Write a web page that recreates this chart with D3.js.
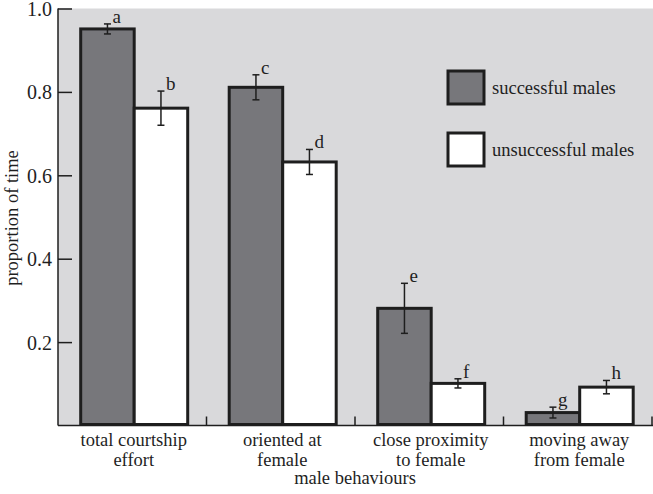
<!DOCTYPE html>
<html>
<head>
<meta charset="utf-8">
<script src="https://cdn.jsdelivr.net/npm/d3@7"></script>
<style>
  html, body { margin: 0; padding: 0; background: #ffffff; }
  svg { display: block; }
  text { font-family: "Liberation Serif", "Times New Roman", serif; fill: #1f1f1f; }
</style>
</head>
<body>
<svg id="chart" width="653" height="494"></svg>
<script>
// ---- data ----
const categories = [["total courtship", "effort"], ["oriented at", "female"], ["close proximity", "to female"], ["moving away", "from female"]];
const seriesNames = ["successful males", "unsuccessful males"];
const successful = [0.951, 0.811, 0.281, 0.031];
const unsuccessful = [0.761, 0.632, 0.101, 0.092];
const successfulErr = [0.012, 0.030, 0.060, 0.013];
const unsuccessfulErr = [0.041, 0.030, 0.011, 0.016];
const successfulLetters = ["a", "c", "e", "g"];
const unsuccessfulLetters = ["b", "d", "f", "h"];
const yTicks = [0.2, 0.4, 0.6, 0.8, 1.0];
const xTitle = "male behaviours";
const yTitle = "proportion of time";

// ---- layout ----
const svg = d3.select("#chart");
const mLeft = 58, mRight = 652, mTop = 8.5, mBottom = 425.5;
const seriesFill = ["#77777b", "#ffffff"];
const bg = "#d9d9db";
const ink = "#1e1e1e";

const catKeys = categories.map((c, i) => i);
const x = d3.scaleBand().domain(catKeys).range([mLeft, mRight]).paddingInner(0).paddingOuter(0);
const xSub = d3.scaleBand().domain(seriesNames).range([22.7, 22.7 + 107]).padding(0);
const y = d3.scaleLinear().domain([0, 1]).range([mBottom, mTop]);

// background panel
svg.append("rect").attr("x", mLeft).attr("y", mTop).attr("width", 653 - mLeft).attr("height", mBottom - mTop).attr("fill", bg);

// data rows
const rows = [];
catKeys.forEach(i => {
  rows.push({cat: i, s: 0, v: successful[i], e: successfulErr[i], l: successfulLetters[i]});
  rows.push({cat: i, s: 1, v: unsuccessful[i], e: unsuccessfulErr[i], l: unsuccessfulLetters[i]});
});

// bars
svg.append("g").selectAll("rect").data(rows).join("rect")
  .attr("x", d => x(d.cat) + xSub(seriesNames[d.s]))
  .attr("y", d => y(d.v))
  .attr("width", xSub.bandwidth())
  .attr("height", d => y(0) - y(d.v) - 1)
  .attr("fill", d => seriesFill[d.s])
  .attr("stroke", ink)
  .attr("stroke-width", 3);

// error bars
const eg = svg.append("g").attr("stroke", ink).attr("stroke-width", 1.5).attr("fill", "none");
rows.forEach(d => {
  const cx = x(d.cat) + xSub(seriesNames[d.s]) + xSub.bandwidth() / 2;
  const y1 = y(d.v + d.e), y2 = y(d.v - d.e);
  eg.append("line").attr("x1", cx).attr("x2", cx).attr("y1", y1).attr("y2", y2);
  eg.append("line").attr("x1", cx - 3.5).attr("x2", cx + 3.5).attr("y1", y1).attr("y2", y1);
  eg.append("line").attr("x1", cx - 3.5).attr("x2", cx + 3.5).attr("y1", y2).attr("y2", y2);
});

// significance letters
svg.append("g").selectAll("text").data(rows).join("text")
  .attr("x", d => x(d.cat) + xSub(seriesNames[d.s]) + xSub.bandwidth() / 2 + 5)
  .attr("y", d => y(d.v + d.e) - 1)
  .attr("font-size", 19)
  .text(d => d.l);

// y axis
const yAxis = d3.axisLeft(y).tickValues(yTicks).tickFormat(d3.format(".1f")).tickSize(-14).tickPadding(20);
const yg = svg.append("g").attr("transform", `translate(${mLeft},0)`).call(yAxis);
yg.select(".domain").remove();
yg.selectAll(".tick line").attr("stroke", ink).attr("stroke-width", 1.5);
yg.selectAll(".tick text").attr("font-size", 20).attr("font-family", "Liberation Serif, serif").attr("fill", "#1f1f1f").attr("x", -6).attr("dy", "0.35em");
svg.append("line").attr("x1", mLeft).attr("x2", mLeft).attr("y1", mTop).attr("y2", mBottom).attr("stroke", ink).attr("stroke-width", 1.5);

// x axis line and separator ticks
svg.append("line").attr("x1", mLeft).attr("x2", 653).attr("y1", mBottom).attr("y2", mBottom).attr("stroke", ink).attr("stroke-width", 1.5);
svg.append("g").selectAll("line").data(catKeys).join("line")
  .attr("x1", d => x(d) + x.bandwidth()).attr("x2", d => x(d) + x.bandwidth())
  .attr("y1", mBottom).attr("y2", mBottom - 9)
  .attr("stroke", ink).attr("stroke-width", 1.5);

// category labels
const cl = svg.append("g").selectAll("text").data(catKeys).join("text")
  .attr("text-anchor", "middle")
  .attr("font-size", 18.5)
  .attr("x", d => x(d) + x.bandwidth() / 2 + 1.5)
  .attr("y", 446);
cl.append("tspan").text(d => categories[d][0]);
cl.append("tspan").attr("x", d => x(d) + x.bandwidth() / 2 + 1.5).attr("dy", 19.5).text(d => categories[d][1]);

// axis titles
svg.append("text").attr("x", 355).attr("y", 484).attr("text-anchor", "middle").attr("font-size", 18.5).text(xTitle);
svg.append("text").attr("transform", "translate(18,218) rotate(-90)").attr("text-anchor", "middle").attr("font-size", 18.5).text(yTitle);

// legend
const lg = svg.append("g");
seriesNames.forEach((name, i) => {
  const ly = 71 + i * 62;
  lg.append("rect").attr("x", 448).attr("y", ly).attr("width", 36).attr("height", 33)
    .attr("fill", seriesFill[i]).attr("stroke", ink).attr("stroke-width", 3);
  lg.append("text").attr("x", 492).attr("y", ly + 23).attr("font-size", 18.5).text(name);
});
</script>
</body>
</html>
